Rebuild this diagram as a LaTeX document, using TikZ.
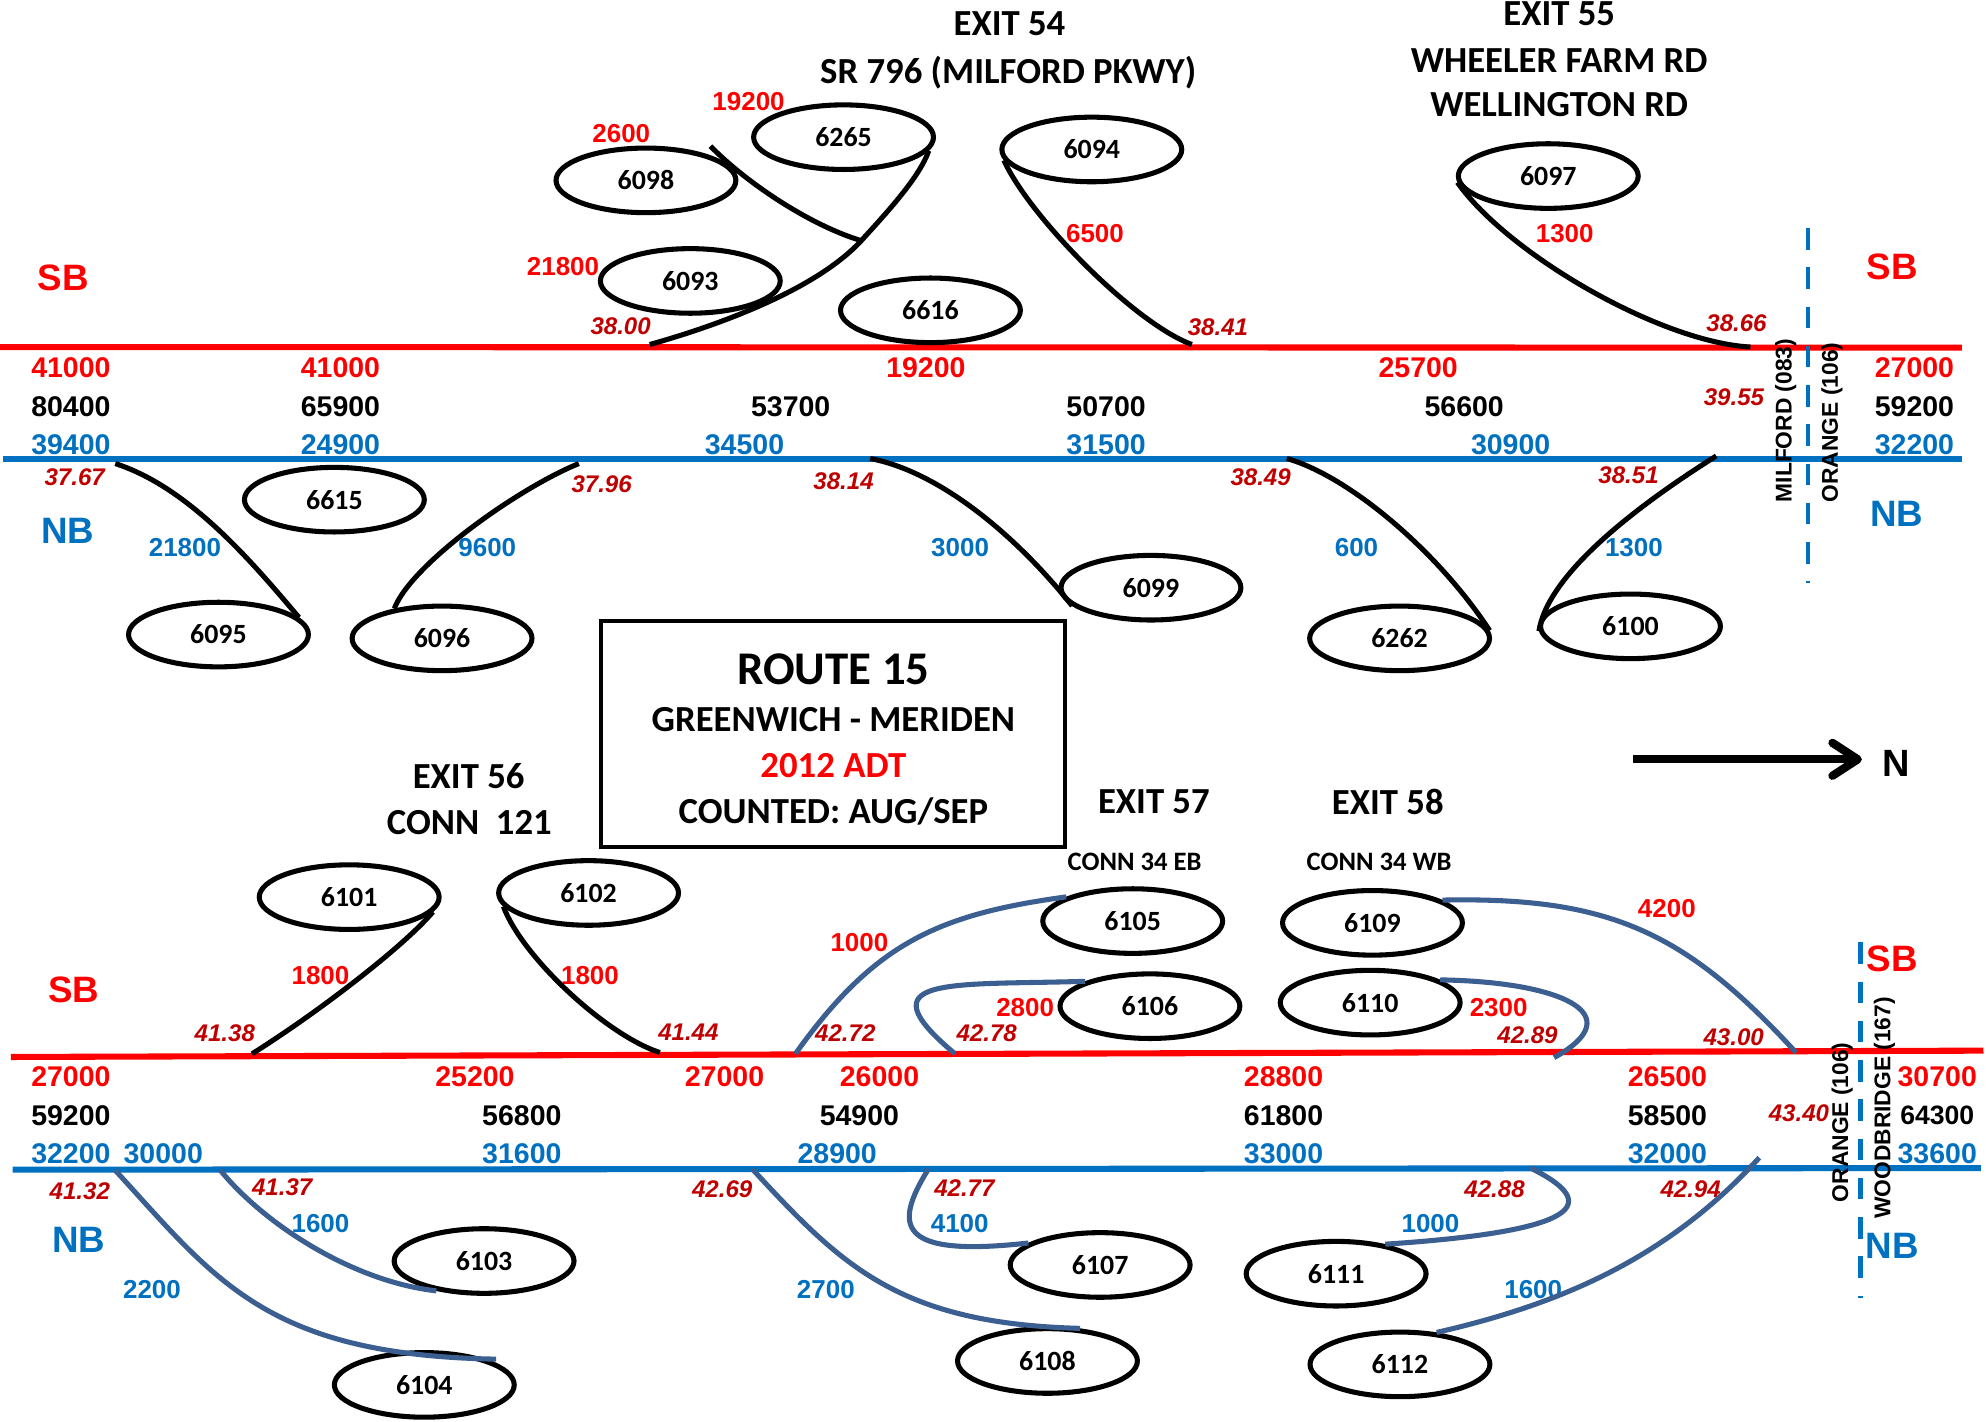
\documentclass[tikz,border=0pt]{standalone}
\usepackage{fontspec}
\setmainfont{Carlito}
\newfontfamily\arialfont{Liberation Sans}
\usetikzlibrary{shapes.geometric,arrows.meta}
\definecolor{redc}{HTML}{FF0000}
\definecolor{bluec}{HTML}{0070C0}
\definecolor{mpc}{HTML}{C00000}
\definecolor{steelc}{RGB}{60,95,145}
\newcommand\fRow{\arialfont\bfseries\fontsize{22.5}{27}\selectfont}
\newcommand\fFlow{\arialfont\bfseries\fontsize{20.5}{25}\selectfont}
\newcommand\fMile{\arialfont\bfseries\itshape\fontsize{19}{23}\selectfont}
\newcommand\fOval{\bfseries\fontsize{22}{26}\selectfont}
\newcommand\fTitle{\bfseries\fontsize{29}{34}\selectfont}
\newcommand\fSub{\bfseries\fontsize{21}{25}\selectfont}
\newcommand\fDir{\arialfont\bfseries\fontsize{29}{34}\selectfont}
\newcommand\fTown{\arialfont\bfseries\fontsize{18}{22}\selectfont}
\begin{document}
\begin{tikzpicture}[x=1pt,y=-1pt,
  oval/.style={ellipse,draw,line width=4pt,minimum width=142pt,minimum height=51pt,inner sep=0pt,font=\fOval},
  road/.style={line width=4.8pt},
  kline/.style={draw=black,line width=4pt},
  sline/.style={draw=steelc,line width=4pt},
  lbl/.style={inner sep=0pt,text depth=0pt},
  nr/.style={lbl,text=redc,font=\fRow},
  nk/.style={lbl,text=black,font=\fRow},
  nb/.style={lbl,text=bluec,font=\fRow},
  fr/.style={lbl,text=redc,font=\fFlow},
  fb/.style={lbl,text=bluec,font=\fFlow},
  mpost/.style={lbl,text=mpc,font=\fMile},
  ttl/.style={lbl,font=\fTitle},
  sub/.style={lbl,font=\fSub},
  dr/.style={lbl,text=redc,font=\fDir},
  db/.style={lbl,text=bluec,font=\fDir},
  town/.style={lbl,rotate=90,font=\fTown},
  divider/.style={draw=bluec,line width=3.6pt,dash pattern=on 17pt off 14pt}]
\fill[white] (0,0) rectangle (1568,1122);
\useasboundingbox (0,0) rectangle (1568,1122);

% ---------- roads ----------
\coordinate (sbAw) at (0,274);   \coordinate (sbAe) at (1549,274.5);
\coordinate (nbAw) at (2.5,362.7); \coordinate (nbAe) at (1549,362.7);
\coordinate (sbBw) at (8.5,834.5); \coordinate (sbBe) at (1566,829.5);
\coordinate (nbBw) at (10,923.5); \coordinate (nbBe) at (1564,922.2);
\draw[road,redc] (sbAw) -- (sbAe);
\draw[road,bluec] (nbAw) -- (nbAe);
\draw[road,redc] (sbBw) -- (sbBe);
\draw[road,bluec] (nbBw) -- (nbBe);

% ---------- titles ----------
\node[ttl] (t54a) at (797,19) {EXIT 54};
\node[ttl] (t54b) at (796,55) {SR 796 (MILFORD PKWY)};
\node[ttl] (t55a) at (1231,11) {EXIT 55};
\node[ttl] (t55b) at (1231,47.5) {WHEELER FARM RD};
\node[ttl] (t55c) at (1231,82.5) {WELLINGTON RD};
\node[ttl] (t56a) at (370,613) {EXIT 56};
\node[ttl] (t56b) at (370.6,649) {CONN\ \ 121};
\node[ttl] (t57) at (911,633) {EXIT 57};
\node[ttl] (t58) at (1095.7,633) {EXIT 58};
\node[sub] (t57b) at (895.8,680) {CONN 34 EB};
\node[sub] (t58b) at (1088.9,680) {CONN 34 WB};

% ---------- direction labels ----------
\node[dr] (sb1) at (50,219.6) {SB};
\node[dr] (sb2) at (1494,210.3) {SB};
\node[db] (nb1) at (53.6,419) {NB};
\node[db] (nb2) at (1497.5,405.4) {NB};
\node[dr] (sb3) at (58.4,781) {SB};
\node[dr] (sb4) at (1494,757) {SB};
\node[db] (nb3) at (62,978.5) {NB};
\node[db] (nb4) at (1494,983.6) {NB};

% ---------- ADT rows, top ----------
\node[nr] at (56,290) {41000};
\node[nr] at (268.8,290) {41000};
\node[nr] at (731,290) {19200};
\node[nr] at (1119.7,290) {25700};
\node[nr] at (1511.5,290) {27000};
\node[nk] at (56,320.8) {80400};
\node[nk] at (268.8,320.8) {65900};
\node[nk] at (624.3,320.8) {53700};
\node[nk] at (873.3,320.8) {50700};
\node[nk] at (1156,320.8) {56600};
\node[nk] at (1511.5,320.8) {59200};
\node[nb] at (56,351.2) {39400};
\node[nb] at (268.8,351.2) {24900};
\node[nb] at (587.8,351.2) {34500};
\node[nb] at (873.3,351.2) {31500};
\node[nb] at (1192.7,351.2) {30900};
\node[nb] at (1511.5,351.2) {32200};

% ---------- ADT rows, bottom ----------
\node[nr] at (56,850.3) {27000};
\node[nr] at (375,850.3) {25200};
\node[nr] at (572,850.3) {27000};
\node[nr] at (694.4,850.3) {26000};
\node[nr] at (1013.4,850.3) {28800};
\node[nr] at (1316.5,850.3) {26500};
\node[nr] at (1529.5,850.3) {30700};
\node[nk] at (56,880.4) {59200};
\node[nk] at (412,880.4) {56800};
\node[nk] at (678.5,880.4) {54900};
\node[nk] at (1013.4,880.4) {61800};
\node[nk] at (1316.5,880.4) {58500};
\node[nk,font=\arialfont\bfseries\fontsize{21}{25}\selectfont] at (1529.5,880.4) {64300};
\node[nb] at (56,911) {32200};
\node[nb] at (128.9,911) {30000};
\node[nb] at (412,911) {31600};
\node[nb] at (661,911) {28900};
\node[nb] at (1013.4,911) {33000};
\node[nb] at (1316.5,911) {32000};
\node[nb] at (1529.5,911) {33600};

% ---------- ramp volumes ----------
\node[fr] at (591,79.7) {19200};
\node[fr] at (490.5,105.6) {2600};
\node[fr] at (444.5,210) {21800};
\node[fr] at (864.5,184.6) {6500};
\node[fr] at (1235.4,184.5) {1300};
\node[fb] at (146,432) {21800};
\node[fb] at (384.7,432) {9600};
\node[fb] at (758,432) {3000};
\node[fb] at (1071,432) {600};
\node[fb] at (1290,432) {1300};
\node[fr] at (253,770) {1800};
\node[fr] at (465.8,770) {1800};
\node[fr] at (678.5,744) {1000};
\node[fr] at (809.4,795.6) {2800};
\node[fr] at (1183.2,795.6) {2300};
\node[fr] at (1316,717.5) {4200};
\node[fb] at (253,965.6) {1600};
\node[fb] at (120,1018) {2200};
\node[fb] at (652,1018) {2700};
\node[fb] at (757.7,965.6) {4100};
\node[fb] at (1129.4,965.6) {1000};
\node[fb] at (1210.5,1018) {1600};

% ---------- mileposts ----------
\node[mpost] at (490,257.7) {38.00};
\node[mpost] at (961.6,258) {38.41};
\node[mpost] at (1371,255) {38.66};
\node[mpost] at (1369,313.4) {39.55};
\node[mpost] at (59,377) {37.67};
\node[mpost] at (475,382) {37.96};
\node[mpost] at (666,380) {38.14};
\node[mpost] at (995.3,377) {38.49};
\node[mpost] at (1285.8,375) {38.51};
\node[mpost] at (177.5,816) {41.38};
\node[mpost] at (543.5,815) {41.44};
\node[mpost] at (667.4,816) {42.72};
\node[mpost] at (779,816) {42.78};
\node[mpost] at (1206,817.5) {42.89};
\node[mpost] at (1368.8,819) {43.00};
\node[mpost] at (1420.3,879) {43.40};
\node[mpost] at (63,940) {41.32};
\node[mpost] at (222.8,937) {41.37};
\node[mpost] at (570.2,938.5) {42.69};
\node[mpost] at (761.4,938.3) {42.77};
\node[mpost] at (1180,938.7) {42.88};
\node[mpost] at (1334.8,938.7) {42.94};

% ---------- count stations ----------
\node[oval] (e6265) at (666,108.3) {6265};
\node[oval] (e6098) at (510,142.4) {6098};
\node[oval] (e6094) at (862,118) {6094};
\node[oval] (e6097) at (1222.4,139) {6097};
\node[oval] (e6093) at (545,221.8) {6093};
\node[oval] (e6616) at (734.6,245) {6616};
\node[oval] (e6615) at (264,394.5) {6615};
\node[oval] (e6095) at (172.5,501) {6095};
\node[oval] (e6096) at (349,504) {6096};
\node[oval] (e6099) at (908.7,464) {6099};
\node[oval] (e6262) at (1105,504) {6262};
\node[oval] (e6100) at (1287.3,494.5) {6100};
\node[oval] (e6101) at (275.7,708.3) {6101};
\node[oval] (e6102) at (464.7,705) {6102};
\node[oval] (e6105) at (894.3,727.2) {6105};
\node[oval] (e6106) at (907.9,794.4) {6106};
\node[oval] (e6109) at (1083.6,728.6) {6109};
\node[oval] (e6110) at (1081.8,791.6) {6110};
\node[oval] (e6103) at (382.2,995.6) {6103};
\node[oval] (e6104) at (335,1093.4) {6104};
\node[oval] (e6107) at (868.6,998.7) {6107};
\node[oval] (e6111) at (1054.9,1005.6) {6111};
\node[oval] (e6108) at (827,1074.5) {6108};
\node[oval] (e6112) at (1105.3,1077.2) {6112};

% ---------- ramp connectors, top ----------
\coordinate (m3800) at (513,272);
\coordinate (j54) at (680,190);
\draw[kline] (m3800) .. controls (570,256) and (645,228) .. (j54)
  .. controls (700,168) and (726,140) .. (e6265.-9);
\draw[kline] (j54) .. controls (640,178) and (590,145) .. ([shift={(11,-4)}]e6098.30);
\coordinate (m3841) at (941,272);
\draw[kline] (e6094.187) .. controls (812,170) and (895,255) .. (m3841);
\coordinate (m3866) at (1382,274);
\draw[kline] (e6097.184) .. controls (1190,200) and (1310,270) .. (m3866);
\coordinate (m3767) at (91,366);
\draw[kline] (m3767) .. controls (150,385) and (200,445) .. (e6095.12);
\coordinate (m3796) at (457,366);
\draw[kline] (m3796) .. controls (410,385) and (325,445) .. (e6096.148);
\coordinate (m3814) at (687,362);
\draw[kline] (m3814) .. controls (740,372) and (800,420) .. (e6099.193);
\coordinate (m3849) at (1016,362);
\draw[kline] (m3849) .. controls (1065,376) and (1135,435) .. (e6262.5);
\coordinate (m3851) at (1355,360);
\draw[kline] (m3851) .. controls (1293,399) and (1222,453) .. (e6100.183);

% ---------- ramp connectors, bottom ----------
\coordinate (m4138) at (199,832);
\draw[kline] (e6101.-10) .. controls (318,748) and (250,800) .. (m4138);
\coordinate (m4144) at (521,831);
\draw[kline] (e6102.189) .. controls (412,755) and (478,817) .. (m4144);
\coordinate (m4272) at (628,832);
\draw[sline] (m4272) .. controls (690,745) and (740,722) .. (e6105.160);
\coordinate (m4278) at (754,832);
\draw[sline] (m4278) .. controls (680,770) and (750,778) .. (e6106.159);
\coordinate (m4300) at (1418,831);
\draw[sline] (e6109.18) .. controls (1270,708) and (1330,735) .. (m4300);
\coordinate (m4289) at (1227,835);
\draw[sline] (e6110.18) .. controls (1230,775) and (1290,800) .. (m4289);
\coordinate (m4132) at (91,924);
\draw[sline] (m4132) .. controls (170,1010) and (210,1070) .. ([shift={(0,-3)}]e6104.17);
\coordinate (m4137) at (174,924);
\draw[sline] (m4137) .. controls (210,968) and (280,1012) .. (e6103.212);
\coordinate (m4269) at (594,923);
\draw[sline] (m4269) .. controls (665,1000) and (710,1045) .. (e6108.45);
\coordinate (m4277) at (733,923);
\draw[sline] (m4277) .. controls (705,968) and (708,993) .. (e6107.163);
\coordinate (m4288) at (1208,922);
\draw[sline] (m4288) .. controls (1265,950) and (1250,972) .. (e6111.31);
\coordinate (m4294) at (1389,914);
\draw[sline] (m4294) .. controls (1315,995) and (1230,1030) .. (e6112.41);

% ---------- town lines ----------
\coordinate (dvAt) at (1427.5,180); \coordinate (dvAb) at (1427.5,460);
\coordinate (dvBt) at (1469,744);   \coordinate (dvBb) at (1469,1025);
\draw[divider] (dvAt) -- (dvAb);
\draw[divider] (dvBt) -- (dvBb);
\node[town] (tw1) at (1408,332) {MILFORD (083)};
\node[town] (tw2) at (1444.5,333.5) {ORANGE (106)};
\node[town] (tw3) at (1452.7,886) {ORANGE (106)};
\node[town] (tw4) at (1486,874.8) {WOODBRIDGE (167)};

% ---------- title box ----------
\node[draw,line width=3.2pt,minimum width=366.5pt,minimum height=179pt,inner sep=0pt] (box) at (657.75,579.5) {};
\node[lbl,font=\bfseries\fontsize{37}{40}\selectfont] (bx1) at (658,528) {ROUTE 15};
\node[lbl,font=\bfseries\fontsize{29}{34}\selectfont] (bx2) at (658,567.7) {GREENWICH - MERIDEN};
\node[lbl,text=redc,font=\bfseries\fontsize{29}{34}\selectfont] (bx3) at (658,604.6) {2012 ADT};
\node[lbl,font=\bfseries\fontsize{29}{34}\selectfont] (bx4) at (658,640) {COUNTED: AUG/SEP};

% ---------- north arrow ----------
\coordinate (arS) at (1289.5,599.5);
\coordinate (arE) at (1470,599.5);
\draw[line width=6.5pt,-{Straight Barb[length=20pt,width=26pt,round]}] (arS) -- (arE);
\node[lbl,font=\arialfont\bfseries\fontsize{30}{34}\selectfont] (north) at (1497,603) {N};
\end{tikzpicture}
\end{document}
